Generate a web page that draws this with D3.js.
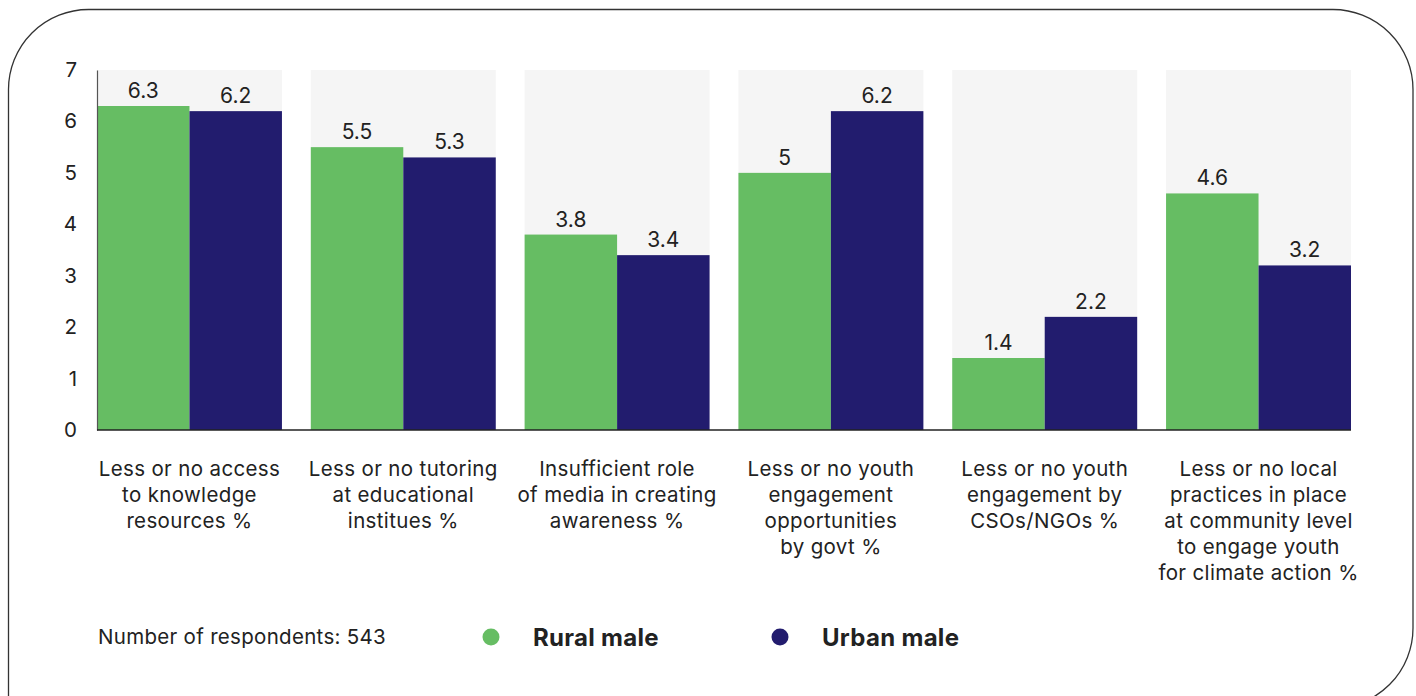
<!DOCTYPE html>
<html>
<head>
<meta charset="utf-8">
<script src="https://cdn.jsdelivr.net/npm/d3@7/dist/d3.min.js"></script>
<style>
  html, body { margin: 0; padding: 0; background: #ffffff; }
  svg { display: block; font-family: "Inter", "Open Sans", sans-serif; }
</style>
</head>
<body>
<svg id="chart" width="1416" height="696"></svg>
<script>
// Barriers to youth climate engagement, rural vs urban male respondents
const categories = [
  ["Less or no access", "to knowledge", "resources %"],
  ["Less or no tutoring", "at educational", "institues %"],
  ["Insufficient role", "of media in creating", "awareness %"],
  ["Less or no youth", "engagement", "opportunities", "by govt %"],
  ["Less or no youth", "engagement by", "CSOs/NGOs %"],
  ["Less or no local", "practices in place", "at community level", "to engage youth", "for climate action %"]
];
const seriesNames = ["Rural male", "Urban male"];
const ruralMale = [6.3, 5.5, 3.8, 5, 1.4, 4.6];
const urbanMale = [6.2, 5.3, 3.4, 6.2, 2.2, 3.2];
const yTicks = [0, 1, 2, 3, 4, 5, 6, 7];
const respondentsNote = "Number of respondents: 543";

const colors = ["#66bd63", "#221c6e"];
const textColor = "#222222";

const svg = d3.select("#chart");

// Frame with rounded corners
const L = 8.5, T = 9.5, R = 1413, B = 708, rad = 80;
svg.append("path")
  .attr("d", `M${L},${B + 20} L${L},${T + rad} A${rad},${rad} 0 0 1 ${L + rad},${T}
              L${R - rad},${T} A${rad},${rad} 0 0 1 ${R},${T + rad}
              L${R},${B - rad} A${rad},${rad} 0 0 1 ${R - rad},${B}`)
  .attr("fill", "none")
  .attr("stroke", "#333")
  .attr("stroke-width", 1.3);

const plotLeft = 97, plotRight = 1351, plotTop = 70, plotBottom = 430;

const keys = categories.map((c, i) => i);
const x0 = d3.scaleBand().domain(keys).range([plotLeft, plotRight])
  .paddingInner(0.135).paddingOuter(0);
const x1 = d3.scaleBand().domain([0, 1]).range([0, x0.bandwidth()]).padding(0);
const y = d3.scaleLinear().domain([0, 7]).range([plotBottom, plotTop]);

// Light background panel behind each category
svg.append("g").selectAll("rect")
  .data(keys)
  .join("rect")
  .attr("x", d => x0(d))
  .attr("y", y(7))
  .attr("width", x0.bandwidth())
  .attr("height", y(0) - y(7))
  .attr("fill", "#f5f5f5");

// Bars
const seriesValues = [ruralMale, urbanMale];
const groups = svg.append("g").selectAll("g")
  .data(keys)
  .join("g")
  .attr("transform", d => `translate(${x0(d)},0)`);

groups.selectAll("rect")
  .data(d => seriesValues.map((vals, s) => ({ s, v: vals[d] })))
  .join("rect")
  .attr("x", d => x1(d.s))
  .attr("y", d => y(d.v))
  .attr("width", x1.bandwidth())
  .attr("height", d => y(0) - y(d.v))
  .attr("fill", d => colors[d.s]);

// Value labels
groups.selectAll("text")
  .data(d => seriesValues.map((vals, s) => ({ s, v: vals[d] })))
  .join("text")
  .attr("x", d => x1(d.s) + x1.bandwidth() / 2)
  .attr("y", d => y(d.v) - 8)
  .attr("text-anchor", "middle")
  .attr("font-size", 21)
  .attr("fill", textColor)
  .text(d => d.v);

// Y axis
const yAxis = svg.append("g")
  .attr("transform", `translate(${plotLeft},0)`)
  .call(d3.axisLeft(y).tickValues(yTicks).tickFormat(d3.format("d")).tickSize(0).tickPadding(20));
yAxis.select(".domain").attr("stroke", "#555").attr("stroke-width", 1.2);
yAxis.selectAll("text").attr("font-size", 20.5).attr("fill", textColor)
  .attr("font-family", "Inter, sans-serif");

// Baseline
svg.append("line")
  .attr("x1", plotLeft).attr("x2", plotRight)
  .attr("y1", y(0)).attr("y2", y(0))
  .attr("stroke", "#222").attr("stroke-width", 1.5);

// Category labels
const catG = svg.append("g").selectAll("text")
  .data(keys)
  .join("text")
  .attr("text-anchor", "middle")
  .attr("font-size", 20.5)
  .attr("letter-spacing", 0.35)
  .attr("fill", textColor);
catG.each(function (d) {
  const t = d3.select(this);
  categories[d].forEach((line, i) => {
    t.append("tspan")
      .attr("x", x0(d) + x0.bandwidth() / 2)
      .attr("y", 476 + i * 26)
      .text(line);
  });
});

// Footer note
svg.append("text")
  .attr("x", 98).attr("y", 644)
  .attr("font-size", 20.5)
  .attr("letter-spacing", 0.3)
  .attr("fill", textColor)
  .text(respondentsNote);

// Legend
const legendX = [491, 780];
const legend = svg.append("g").selectAll("g")
  .data(seriesNames)
  .join("g")
  .attr("transform", (d, i) => `translate(${legendX[i]},637)`);
legend.append("circle").attr("r", 8.5).attr("fill", (d, i) => colors[i]);
legend.append("text")
  .attr("x", 42).attr("y", 8.5)
  .attr("font-size", 24)
  .attr("letter-spacing", 0.3)
  .attr("font-weight", "bold")
  .attr("fill", textColor)
  .text(d => d);
</script>
</body>
</html>
